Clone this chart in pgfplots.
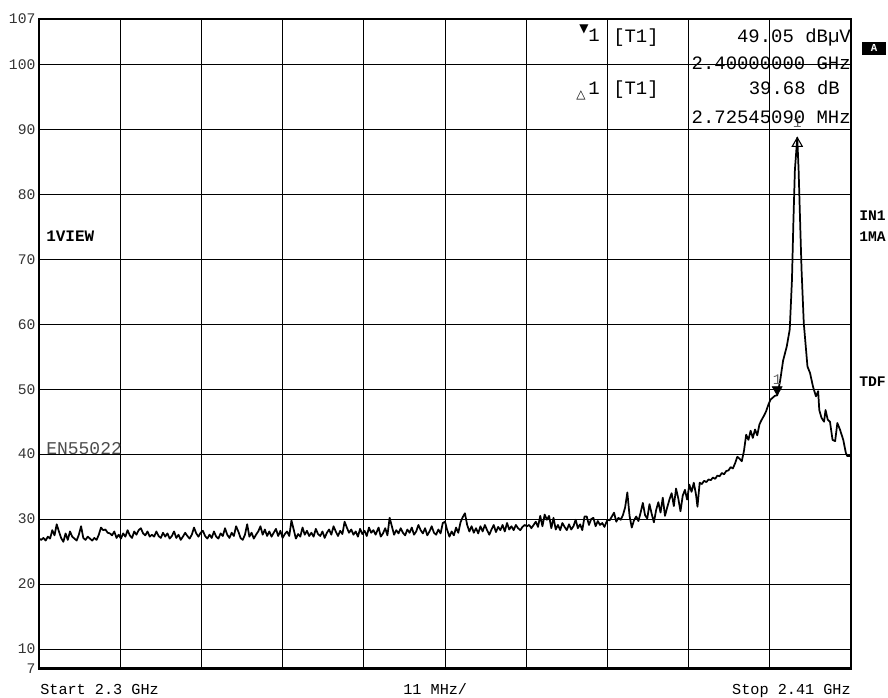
\documentclass[border=0pt]{standalone}
\usepackage{fontspec}
\setmainfont{Liberation Mono}
\setmonofont{Liberation Mono}
\newfontfamily\dejavu{DejaVu Sans}
\usepackage{pgfplots}
\pgfplotsset{compat=1.18}
\usetikzlibrary{plotmarks}
\newcommand\fs[1]{\fontsize{#1}{#1}\selectfont}
\begin{document}
\begin{tikzpicture}[x=0.75pt,y=0.75pt]
\path[use as bounding box] (0,0) rectangle (888,698);
\begin{axis}[
  at={(29.25pt,22.125pt)}, anchor=south west,
  width=609pt, height=487.125pt, scale only axis,
  xmin=2300, xmax=2410, ymin=7, ymax=107,
  xtick={2311,2322,2333,2344,2355,2366,2377,2388,2399},
  xticklabels={},
  ytick={7,10,20,30,40,50,60,70,80,90,100,107},
  yticklabels={7,10,20,30,40,50,60,70,80,90,100,107},
  grid=major,
  major grid style={black, line width=0.7pt},
  major tick length=0pt,
  axis line style={black, line width=1.9pt},
  yticklabel style={font=\ttfamily\fs{11}, text=black!80, inner sep=0pt, anchor=east, xshift=-2.5pt},
  /pgf/number format/assume math mode=true,
  clip=true,
]
\addplot[black, line width=1.3pt, line join=round] coordinates {
(2300.0,27.0)(2300.3,26.8)(2300.6,27.1)(2300.9,26.7)(2301.2,27.3)(2301.5,27.0)(2301.8,28.3)(2302.1,27.5)(2302.4,29.2)(2302.7,28.1)
(2303.0,27.1)(2303.3,26.5)(2303.6,27.8)(2303.9,26.8)(2304.2,28.1)(2304.5,27.3)(2304.8,27.0)(2305.1,26.7)(2305.4,27.6)(2305.7,28.9)
(2306.0,27.1)(2306.3,26.8)(2306.6,27.3)(2306.9,27.0)(2307.2,26.7)(2307.5,27.1)(2307.8,26.8)(2308.1,27.6)(2308.4,28.7)(2308.7,28.3)
(2309.0,28.4)(2309.3,27.9)(2309.6,27.8)(2309.9,27.5)(2310.2,28.1)(2310.5,27.1)(2310.8,27.6)(2311.1,27.0)(2311.4,27.8)(2311.7,27.3)
(2312.0,28.3)(2312.3,27.5)(2312.6,27.1)(2312.9,28.1)(2313.2,27.6)(2313.5,28.3)(2313.8,28.6)(2314.1,27.8)(2314.4,27.5)(2314.7,28.1)
(2315.0,27.3)(2315.3,27.6)(2315.6,27.3)(2315.9,28.1)(2316.2,27.4)(2316.5,27.1)(2316.8,27.9)(2317.1,27.3)(2317.4,27.8)(2317.7,27.0)
(2318.0,27.4)(2318.3,28.1)(2318.6,27.1)(2318.9,27.6)(2319.2,26.8)(2319.5,27.3)(2319.8,27.9)(2320.1,27.4)(2320.4,27.0)(2320.7,27.6)
(2321.0,28.7)(2321.3,27.8)(2321.6,27.3)(2321.9,27.9)(2322.2,28.2)(2322.5,27.4)(2322.8,27.0)(2323.1,27.6)(2323.4,27.1)(2323.7,28.1)
(2324.0,27.3)(2324.3,27.0)(2324.6,27.8)(2324.9,27.4)(2325.2,28.6)(2325.5,27.6)(2325.8,27.1)(2326.1,27.9)(2326.4,27.4)(2326.7,28.9)
(2327.0,28.1)(2327.3,27.1)(2327.6,26.8)(2327.9,27.6)(2328.2,29.2)(2328.5,27.3)(2328.8,27.9)(2329.1,27.0)(2329.4,27.6)(2329.7,28.1)
(2330.0,28.9)(2330.3,27.6)(2330.6,28.4)(2330.9,27.4)(2331.2,28.1)(2331.5,27.3)(2331.8,27.9)(2332.1,28.5)(2332.4,27.4)(2332.7,28.2)
(2333.0,27.1)(2333.3,27.7)(2333.6,28.1)(2333.9,27.4)(2334.2,29.8)(2334.5,28.4)(2334.8,27.0)(2335.1,27.7)(2335.4,27.3)(2335.7,28.7)
(2336.0,27.6)(2336.3,28.2)(2336.6,27.4)(2336.9,27.9)(2337.2,27.3)(2337.5,28.5)(2337.8,27.7)(2338.1,27.4)(2338.4,28.1)(2338.7,27.1)
(2339.0,27.9)(2339.3,28.4)(2339.6,27.6)(2339.9,28.9)(2340.2,28.1)(2340.5,27.4)(2340.8,28.2)(2341.1,27.7)(2341.4,29.6)(2341.7,28.7)
(2342.0,27.9)(2342.3,28.4)(2342.6,27.6)(2342.9,28.1)(2343.2,27.3)(2343.5,28.5)(2343.8,27.7)(2344.1,28.2)(2344.4,27.4)(2344.7,28.7)
(2345.0,27.9)(2345.3,28.3)(2345.6,27.6)(2346.0,28.7)(2346.3,27.3)(2346.6,27.8)(2346.9,28.6)(2347.2,27.5)(2347.5,30.2)(2347.8,28.9)
(2348.1,27.6)(2348.4,28.3)(2348.7,27.8)(2349.0,28.6)(2349.3,27.9)(2349.6,27.5)(2349.9,28.4)(2350.2,27.9)(2350.5,28.7)(2350.8,27.6)
(2351.1,28.1)(2351.4,29.1)(2351.7,28.3)(2352.0,27.8)(2352.3,28.6)(2352.6,27.5)(2352.9,28.1)(2353.2,28.9)(2353.5,27.9)(2353.8,27.6)
(2354.1,28.4)(2354.4,27.8)(2354.7,29.4)(2355.0,29.6)(2355.3,28.3)(2355.6,27.3)(2355.9,28.1)(2356.2,27.5)(2356.5,28.7)(2356.8,27.9)
(2357.1,29.5)(2357.4,30.3)(2357.7,30.9)(2358.0,29.1)(2358.3,28.1)(2358.6,28.9)(2358.9,27.9)(2359.2,28.6)(2359.5,27.8)(2359.8,28.9)
(2360.1,28.1)(2360.4,29.1)(2360.7,28.3)(2361.0,27.6)(2361.3,28.4)(2361.6,29.1)(2361.9,28.0)(2362.2,28.8)(2362.5,28.3)(2362.8,29.1)
(2363.1,28.1)(2363.4,29.4)(2363.7,28.4)(2364.0,28.9)(2364.3,28.3)(2364.6,29.1)(2364.9,28.6)(2365.2,28.3)(2365.5,28.8)(2365.8,29.1)
(2366.1,28.9)(2366.4,29.1)(2366.7,28.6)(2367.0,29.1)(2367.3,29.6)(2367.6,28.8)(2367.9,30.5)(2368.2,28.9)(2368.5,30.7)(2368.8,29.9)
(2369.1,30.5)(2369.4,28.6)(2369.7,30.2)(2370.0,28.4)(2370.3,29.1)(2370.6,28.3)(2370.9,29.4)(2371.2,28.8)(2371.5,28.3)(2371.8,29.2)
(2372.1,28.4)(2372.4,28.9)(2372.7,29.9)(2373.0,28.6)(2373.3,29.2)(2373.6,28.3)(2373.9,30.4)(2374.2,30.4)(2374.5,29.1)(2374.8,30.0)
(2375.1,30.2)(2375.4,28.9)(2375.7,29.7)(2376.0,29.1)(2376.3,29.4)(2376.6,28.8)(2377.0,29.9)(2377.3,29.8)(2377.6,30.4)(2377.9,31.0)
(2378.2,29.6)(2378.5,30.2)(2378.8,29.9)(2379.1,30.6)(2379.4,31.8)(2379.7,34.1)(2380.0,30.5)(2380.3,28.7)(2380.6,29.8)(2380.9,30.4)
(2381.2,29.7)(2381.5,31.0)(2381.8,32.5)(2382.1,30.6)(2382.4,30.1)(2382.7,32.3)(2383.0,30.8)(2383.3,29.5)(2383.6,31.4)(2383.9,32.6)
(2384.2,31.0)(2384.5,33.3)(2384.8,30.5)(2385.1,31.8)(2385.4,33.0)(2385.7,34.0)(2386.0,32.0)(2386.3,34.7)(2386.6,33.2)(2386.9,31.2)
(2387.2,33.6)(2387.5,34.5)(2387.8,33.0)(2388.1,35.3)(2388.4,34.2)(2388.7,35.6)(2389.0,33.8)(2389.2,31.9)(2389.5,35.6)(2389.8,35.4)
(2390.1,35.9)(2390.4,35.7)(2390.7,36.1)(2391.0,36.0)(2391.3,36.4)(2391.6,36.2)(2391.9,36.7)(2392.2,36.6)(2392.5,37.1)(2392.8,36.9)
(2393.1,37.4)(2393.4,37.5)(2393.7,38.0)(2394.0,37.8)(2394.3,38.6)(2394.6,39.6)(2394.9,39.3)(2395.2,38.9)(2395.5,40.5)(2395.8,43.0)
(2396.1,42.2)(2396.4,43.6)(2396.7,42.5)(2397.0,43.8)(2397.3,42.9)(2397.6,44.6)(2397.9,45.3)(2398.2,45.9)(2398.5,46.6)(2398.8,47.6)
(2399.1,48.4)(2399.4,48.7)(2399.7,49.0)(2400.0,49.05)(2400.4,51.3)(2400.8,54.4)(2401.3,56.6)(2401.7,59.2)(2402.0,66.8)(2402.2,76.0)
(2402.4,83.8)(2402.72,88.73)(2402.9,83.8)(2403.1,76.0)(2403.3,68.4)(2403.6,60.2)(2404.1,53.5)(2404.45,52.5)(2404.85,50.4)(2405.25,48.9)
(2405.55,49.7)(2405.7,46.8)(2406.0,45.6)(2406.35,45.0)(2406.55,46.8)(2406.85,45.3)(2407.15,45.0)(2407.5,42.2)(2407.85,42.0)(2408.15,44.8)
(2408.5,43.8)(2408.95,42.2)(2409.3,40.2)(2409.5,39.7)(2410.0,39.7)
};
\addplot[only marks, mark=triangle*, mark size=4.33pt,
  mark options={black, fill=black, yshift=4.33pt, rotate=180}] coordinates {(2400,49.05)};
\addplot[only marks, mark=triangle, mark size=4.33pt,
  mark options={black, line width=0.8pt, yshift=-4.33pt}] coordinates {(2402.72,88.73)};
\node[anchor=base, inner sep=0pt, font=\ttfamily\fs{11}, text=black!60, yshift=8.3pt] at (axis cs:2400,49.05) {1};
\node[anchor=base, inner sep=0pt, font=\ttfamily\fs{11}, text=black!60, yshift=7.5pt] at (axis cs:2402.72,88.73) {1};
\end{axis}
% bottom labels
\node[anchor=base west, inner sep=0pt, font=\ttfamily\fs{11.4}] at (40,3) {Start 2.3 GHz};
\node[anchor=base west, inner sep=0pt, font=\ttfamily\fs{11.4}] at (403,3) {11 MHz/};
\node[anchor=base east, inner sep=0pt, font=\ttfamily\fs{11.4}] at (851,3) {Stop 2.41 GHz};
% marker header
\node[anchor=base west, inner sep=0pt, font=\dejavu\fs{9}] at (579,665) {▼};
\node[anchor=base west, inner sep=0pt, font=\ttfamily\fs{14.2}] at (588,656) {1};
\node[anchor=base west, inner sep=0pt, font=\ttfamily\fs{14.2}] at (613,655) {[T1]};
\node[anchor=base east, inner sep=0pt, font=\ttfamily\fs{14.2}] at (851,655) {49.05 dBµV};
\node[anchor=base east, inner sep=0pt, font=\ttfamily\fs{14.2}] at (851,628) {2.40000000 GHz};
\node[anchor=base west, inner sep=0pt, font=\dejavu\fs{9}] at (576,599) {△};
\node[anchor=base west, inner sep=0pt, font=\ttfamily\fs{14.2}] at (588,603) {1};
\node[anchor=base west, inner sep=0pt, font=\ttfamily\fs{14.2}] at (613,603) {[T1]};
\node[anchor=base east, inner sep=0pt, font=\ttfamily\fs{14.2}] at (840,603) {39.68 dB};
\node[anchor=base east, inner sep=0pt, font=\ttfamily\fs{14.2}] at (851,574) {2.72545090 MHz};
% side labels
\fill[black] (862,643) rectangle (886,656);
\node[inner sep=0pt, font=\ttfamily\bfseries\fs{8}, text=white] at (874,649.5) {A};
\node[anchor=base west, inner sep=0pt, font=\ttfamily\bfseries\fs{11}] at (859,477) {IN1};
\node[anchor=base west, inner sep=0pt, font=\ttfamily\bfseries\fs{11}] at (859,456) {1MA};
\node[anchor=base west, inner sep=0pt, font=\ttfamily\bfseries\fs{11}] at (859,311) {TDF};
\node[anchor=base west, inner sep=0pt, font=\ttfamily\bfseries\fs{12}] at (46,456) {1VIEW};
\node[anchor=base west, inner sep=0pt, font=\ttfamily\fs{13.5}, text=black!70] at (46,243) {EN55022};
\end{tikzpicture}
\end{document}
